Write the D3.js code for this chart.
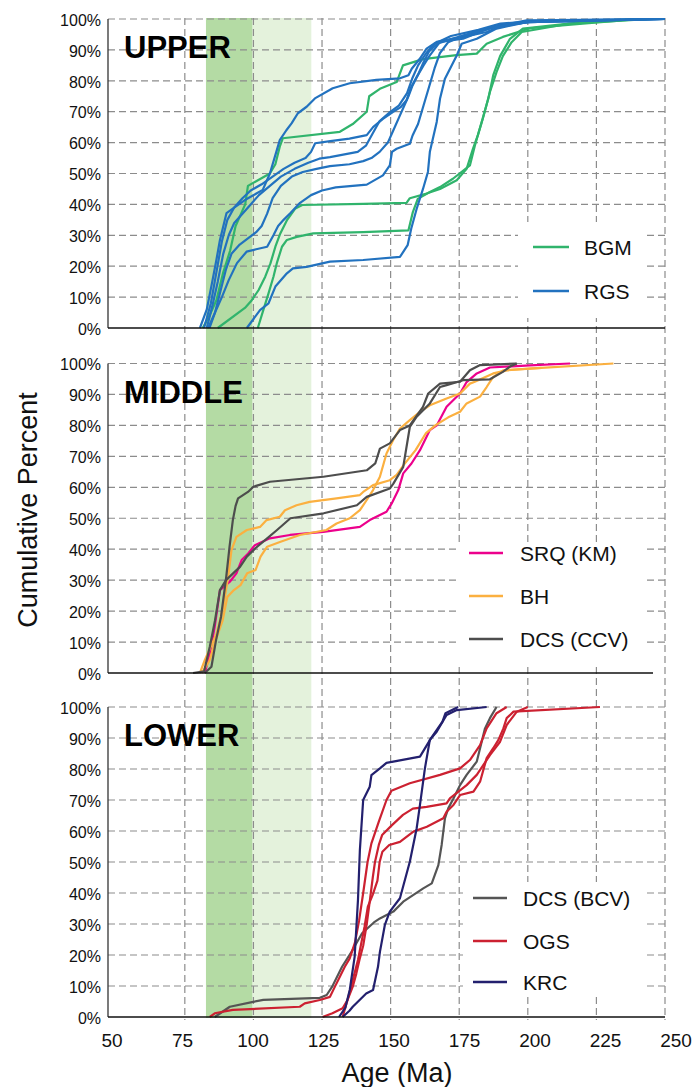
<!DOCTYPE html>
<html><head><meta charset="utf-8">
<script src="https://cdn.jsdelivr.net/npm/d3@7"></script>
<style>
html,body{margin:0;padding:0;background:#fff;}
svg{display:block;font-family:"Liberation Sans",Arial,sans-serif;}
</style></head>
<body><svg id="chart" width="694" height="1087"></svg>
<script>
// ---------- DATA (age in Ma, cumulative percent) ----------
const xTicks = [50,75,100,125,150,175,200,225,250];
const yTicks = [0,10,20,30,40,50,60,70,80,90,100];
const bandDark = [82.7, 99.7];
const bandLight = [99.7, 121.1];

// UPPER: BGM (green)
const bgm1 = [[81.5,0],[84,4],[86.5,9],[89,18],[91.5,25],[93.5,33],[95.5,37],[97,40],[98,46],[101,47.5],[106,50],[108,53],[109.6,58.7],[110.7,61.4],[131.5,63.5],[136.2,66],[141.3,70],[142.2,75],[146.1,77.4],[152.2,79.6],[154.5,85],[161.8,87],[174,88.3],[181.4,88.8],[185,92],[190.9,94.2],[200.8,97],[220,98.5],[241,100]];
const bgm2 = [[87,0],[96.9,6.5],[99.4,9],[101.9,12.3],[104.3,16.6],[106.2,20.9],[108,26.3],[109.8,30.6],[112.3,35],[115.3,38.7],[117.8,39.8],[140,40.2],[155.8,40.5],[157,42],[163.1,43.5],[168,45],[174.1,47.8],[177.7,51.5],[180,58],[181.8,62.4],[183.6,67.7],[186.2,76.4],[188.6,82.8],[190.9,88],[194.1,92.5],[197.8,95.8],[215,98.5],[245,100]];
const bgm3 = [[101.6,0],[103.6,5.8],[105.5,11.2],[107.3,16.6],[108.5,20.9],[110.4,26.3],[112.2,28.5],[115.8,29.5],[121.8,30.6],[140,31],[156.5,31.6],[158.1,37.5],[159.9,41.8],[164.3,44],[168,45.6],[172.7,48.3],[178.9,52.6],[180.7,59],[183.2,66.7],[185.6,74.2],[187.4,81.8],[189.9,88],[193.5,93.6],[198.2,96.9],[225,99.5],[245,100]];
// UPPER: RGS (blue)
const rgs1 = [[80.5,0],[83,6],[85,15],[86.5,22],[87.8,28.5],[90.2,37.2],[92.6,38.7],[96.9,41.4],[103.4,44.7],[106,50],[107.8,55.4],[109.6,60.8],[112,64],[113.9,66.2],[116.2,69.5],[119.4,71.6],[122.4,74.3],[128.9,77.6],[135.1,79.2],[144.8,80.3],[153.4,80.8],[156.5,81.8],[157.7,83.9],[160.7,87.2],[163.1,90.4],[166.8,92.6],[176.5,94.2],[185,95.8],[191.1,98],[199.6,99.6],[250,100]];
const rgs2 = [[82,0],[84.5,8],[86.5,18],[88.5,28],[90.5,35],[93,39],[96,42],[99,44.5],[103,46.5],[107,49],[111,51.5],[115,53.5],[119,55],[121,57],[122.5,59.8],[128,60.5],[135,61.3],[141.3,62.4],[143.6,65],[147.2,67.7],[150.8,69.9],[153.7,71.5],[155.8,73.7],[157.5,78],[159.5,81.2],[162,85],[164.3,88.2],[168,92.6],[176.4,93.6],[183,96],[190,98],[205,99.5],[250,100]];
const rgs3 = [[83,0],[85,7],[87,15],[89,24],[91,30],[93,34],[96,37],[99,40],[102,43],[106,46],[110,49],[115,51.5],[120,53.5],[124,54.8],[127.9,55.3],[138,57],[141,59],[143.5,63],[146,67],[150,70],[153,72],[156,76],[158,81],[160,85],[163,89],[166,92],[172,94.5],[182,96.5],[190,98.5],[200,99.2],[250,100]];
const rgs4 = [[84,0],[86,5],[88,12],[90,19],[92,24],[95,27],[98,29],[101,31],[103,33],[105,37],[107,42],[110,46],[114,49],[118,50.5],[123,51.5],[127.9,52.4],[135,53],[140,54],[143,55],[146,57],[149,60],[151,64],[153,68],[155,72],[156.5,75],[158,78.5],[160,82],[162,86],[164,89.5],[167,92],[172,93.5],[180,95.5],[188,97.5],[200,99],[250,100]];
const rgs5 = [[83.5,0],[86,5],[88.5,10],[91,15.5],[94,21],[97.5,24.7],[101,25.5],[105,26.3],[107.3,30],[109,33],[111,35],[113.5,37.2],[117,40.5],[121,43],[125,44.5],[130,45.5],[141.3,46.4],[147.2,49.4],[149.7,52.6],[150.5,57],[152.2,58],[157,59.6],[158,62.3],[160,66],[162,72],[164,78],[166,84],[168,89],[171,92.5],[176,94.5],[185,97],[200,99],[250,100]];
const rgs6 = [[97.6,0],[102.4,5.8],[105.5,8],[108,13.4],[112.2,17.7],[114.4,19.3],[119.4,19.8],[127.9,21.5],[140,22],[153.4,23],[156.2,26.8],[157.5,32.1],[159.5,38.6],[161.8,45],[163.6,50.5],[164.3,57],[166.8,66.7],[168,74.2],[169.8,80.7],[174.1,88.2],[175.9,92],[181.4,93.6],[188.6,96.9],[199.6,99],[250,100]];

// MIDDLE: SRQ (KM) magenta, BH orange, DCS (CCV) grey
const srq1 = [[82.3,0],[84.1,6.4],[85.9,15],[87.8,26.8],[91.4,29.5],[93.8,32.2],[95.7,36.5],[98.1,38.6],[100.5,41.3],[106,43.5],[113.3,44.6],[125.5,45.6],[138.8,47.2],[142.4,49.4],[148.5,52.1],[150.4,54.8],[152.8,59.1],[154.6,64.5],[157.6,67.7],[160.7,72],[164.3,78.5],[166.8,80],[170.4,86],[175.3,90.3],[177.7,94],[181.4,96.8],[186.2,98.7],[200.8,99.4],[215.4,100]];
const bh1 = [[80.5,0],[82.3,4.2],[86.6,12.8],[89,21.4],[90.8,31.1],[92,39.7],[93.8,44],[97.6,46.2],[102.4,47.2],[104.8,49.4],[109.6,50.5],[111.5,52.6],[115.7,54.2],[120.5,55.3],[130.3,56.4],[138.8,57.5],[140,58.5],[143.6,60.7],[149.7,62.3],[152.2,64],[155,67.5],[159.1,72],[162.8,77.4],[166.4,80.1],[171,82.6],[175.3,84.4],[177.7,87.1],[182.6,89.3],[185,92.4],[187.4,95.7],[191,97.8],[205,98.6]];
const bh2 = [[81.2,0],[84,4],[86,10],[88.8,17],[90.5,24.6],[92.9,26.8],[95.3,28.4],[97.7,32.2],[100.8,33.3],[102.6,37.6],[105,40.8],[109.9,42.4],[116.9,44.6],[126.6,46.2],[130.3,48.3],[135.1,50],[138.8,52.6],[141.3,55.9],[143.6,59.1],[146.1,63.4],[148.5,70.9],[150.9,75.2],[153.4,79],[157,81.7],[160.7,84.4],[164.3,86.5],[170.4,88.7],[175.3,90.3],[178.9,93.5],[180.7,94.1],[187.4,96.8],[192.3,97.8],[202,98.4],[231.2,100]];
const dcsM1 = [[82.3,0],[84.7,2],[86.4,10.7],[88.2,18.2],[90.1,31.1],[91.3,40.8],[92.5,49.4],[93.5,54],[94.4,56.4],[98,58.5],[100,60.2],[106,61.8],[125.5,63.4],[141.3,65.5],[144.4,67.7],[146.1,72.5],[149.7,74.2],[153.4,78.5],[157,80],[161.8,86],[163.7,90.3],[168,93.5],[175.3,94.1],[178.9,97.8],[182.6,99.5],[195.9,100]];
const dcsM2 = [[78,0],[82,0.5],[84.1,8.5],[86,17],[87.8,26.8],[90,30],[95.1,34.3],[97.6,37.6],[100.7,40.3],[105,43.5],[108.6,46.2],[113.5,50],[125.6,51.6],[137.7,54.2],[141.3,56.9],[149.7,59.6],[151,61.2],[154.6,66.6],[157,79.5],[159.5,82.8],[164.3,87.1],[168,92.4],[170.4,93],[176.4,94.6],[186.2,94.9],[190.9,97.3],[193.5,99],[196,100]];

// LOWER: DCS (BCV) grey, OGS red, KRC navy
const dcsL1 = [[85.9,0],[91.4,3.3],[99.9,4.9],[103.6,5.5],[124.2,6.2],[126.7,7.1],[128.7,9.8],[132.3,16.2],[135.4,20.5],[139.6,27],[143.9,30.5],[146.1,31.8],[151,34],[154.6,37.2],[161.9,41.5],[165,43.1],[167.4,49],[168.6,55.5],[169.8,64.1],[171,67.3],[172.9,70.5],[175.3,74.8],[177.7,78.1],[181.4,82.4],[182.6,86.7],[184.4,93.1],[186.2,96.4],[188.6,100]];
const ogs1 = [[84.1,0],[85.9,1.2],[92.5,2.3],[116.9,3.3],[118.7,4.4],[124.2,5.5],[127.9,6.5],[129.7,9.8],[131.5,13],[133.3,16.2],[135.1,18.9],[137,24],[138.5,31],[140,40],[141.6,50],[143,56],[145.7,63],[148.5,70],[150.3,73],[157,75.4],[168,78.1],[175.3,80.2],[178.9,82.9],[182.6,87.7],[185,93.1],[188.6,98],[192.3,100]];
const ogs2 = [[125.2,0],[128.8,1.2],[132.5,2.8],[134.3,5.5],[136.2,9.8],[137.5,14],[138.8,19],[140,23],[141.3,30],[142.5,38],[143.5,45],[144.3,50],[145.7,55.5],[146.9,58.7],[150.5,61.9],[154.5,65.2],[158.1,67.2],[163.1,67.8],[170.4,68.9],[171.6,70.5],[177.7,74.8],[181.4,78.1],[186.2,84.5],[189.9,88.8],[192.3,94.2],[196,98.5],[200,100]];
const ogs3 = [[132.5,0],[134.3,5.5],[136.2,11.9],[138.1,18.4],[139.3,23.8],[140.5,29.1],[141.7,35.6],[143.5,39.5],[145.2,44],[146,50],[147,53.3],[149.5,55.5],[153.4,56.5],[158.3,59.8],[163.2,61.4],[169.2,64.1],[170.4,66.2],[172.9,68.4],[175.3,71.6],[180.2,72.7],[182.6,75.9],[185,83.5],[187.4,86.7],[189.3,89.4],[191.1,93.1],[192.3,96.4],[194.8,98.5],[226.3,100]];
const krc1 = [[131.2,0],[133.5,3],[135.1,8.7],[136.9,19.5],[138.1,37.7],[138.8,53.9],[140,70],[142.4,74.3],[143,78],[146.1,80.2],[148.5,82],[160.7,84],[164.7,89.9],[168.9,95.3],[170,98],[174.6,100]];
const krc2 = [[132.5,0],[135,2],[136.2,3.3],[141.1,7.6],[143.6,8.7],[145.4,16.2],[146.1,21],[147.9,29.7],[149.7,34],[153.4,38.3],[157,50.1],[159.5,60.9],[160.7,68.4],[162.5,80.2],[164.3,89.4],[166.8,92],[170.4,97.4],[174.1,99],[185,100]];

const panelNames = ["UPPER","MIDDLE","LOWER"];
const upperSeries = [["BGM","#30b46c",[bgm1,bgm2,bgm3]],["RGS","#2272bf",[rgs1,rgs2,rgs3,rgs4,rgs5,rgs6]]];
const middleSeries = [["SRQ (KM)","#ec008c",[srq1]],["BH","#fbb040",[bh1,bh2]],["DCS (CCV)","#4d4d4d",[dcsM1,dcsM2]]];
const lowerSeries = [["DCS (BCV)","#555555",[dcsL1]],["OGS","#cc2131",[ogs1,ogs2,ogs3]],["KRC","#23206e",[krc1,krc2]]];

// ---------- LAYOUT ----------
const svg = d3.select("#chart");
const x = d3.scaleLinear().domain([47,250]).range([108,665]);
const xLab = d3.scaleLinear().domain([50,250]).range([112,676]);
const panels = [
  {name:panelNames[0], y:d3.scaleLinear().domain([0,100]).range([328,19]), series:upperSeries, axisEnd:665,
   legend:{box:[518,222,643,318], lx:[533,569], tx:584, ys:[247,291]}},
  {name:panelNames[1], y:d3.scaleLinear().domain([0,100]).range([673,363.5]), series:middleSeries, axisEnd:653,
   legend:{box:[457,542,643,665], lx:[469,503], tx:520, ys:[553,596,639]}},
  {name:panelNames[2], y:d3.scaleLinear().domain([0,100]).range([1017,707]), series:lowerSeries, axisEnd:665,
   legend:{box:[463,882,643,997], lx:[473,507], tx:523, ys:[898,941,982]}}
];
const gridColor = "#8c8c8c", dash = "7,4";

// background bands spanning all panels
const bandTop = 18, bandBottom = 1018;
svg.append("rect").attr("x",x(bandDark[0])).attr("y",bandTop).attr("width",x(bandDark[1])-x(bandDark[0])).attr("height",bandBottom-bandTop).attr("fill","#b4dba4");
svg.append("rect").attr("x",x(bandLight[0])).attr("y",bandTop).attr("width",x(bandLight[1])-x(bandLight[0])).attr("height",bandBottom-bandTop).attr("fill","#e4f2dc");

// vertical grid lines through all panels
svg.append("g").selectAll("line").data(xTicks.filter(d=>d>50)).join("line")
  .attr("x1",d=>x(d)).attr("x2",d=>x(d)).attr("y1",bandTop).attr("y2",bandBottom+2)
  .attr("stroke",gridColor).attr("stroke-width",1.2).attr("stroke-dasharray",dash);

const line = (ys)=>d3.line().x(d=>x(d[0])).y(d=>ys(d[1]));

panels.forEach(p=>{
  const g = svg.append("g");
  // horizontal grid
  g.selectAll("line.h").data(yTicks.filter(d=>d>0)).join("line").attr("class","h")
    .attr("x1",x(47)).attr("x2",x(250)).attr("y1",d=>p.y(d)).attr("y2",d=>p.y(d))
    .attr("stroke",gridColor).attr("stroke-width",1.2).attr("stroke-dasharray",dash);
  // legend box (covers grid)
  const b = p.legend.box;
  g.append("rect").attr("x",b[0]).attr("y",b[1]).attr("width",b[2]-b[0]).attr("height",b[3]-b[1]).attr("fill","#fff");
  // data lines
  p.series.forEach(s=>{
    s[2].forEach(arr=>{
      g.append("path").datum(arr).attr("d",line(p.y)).attr("fill","none")
        .attr("stroke",s[1]).attr("stroke-width",2.2).attr("stroke-linejoin","round");
    });
  });
  // axes lines
  g.append("line").attr("x1",x(47)).attr("x2",x(47)).attr("y1",p.y(100)).attr("y2",p.y(0)).attr("stroke","#333").attr("stroke-width",1.3);
  g.append("line").attr("x1",x(47)).attr("x2",p.axisEnd).attr("y1",p.y(0)).attr("y2",p.y(0)).attr("stroke","#111").attr("stroke-width",1.6);
  // y tick labels
  g.selectAll("text.yt").data(yTicks).join("text").attr("class","yt")
    .attr("x",101).attr("y",d=>p.y(d)).attr("dy","0.42em").attr("text-anchor","end")
    .attr("font-size",16).attr("fill","#111").text(d=>d+"%");
  // panel title
  g.append("text").attr("x",124).attr("y",p.y(100)+39)
    .attr("font-size",31).attr("font-weight","bold").attr("fill","#000").text(p.name);
  // legend
  p.series.forEach((s,i)=>{
    g.append("line").attr("x1",p.legend.lx[0]).attr("x2",p.legend.lx[1]).attr("y1",p.legend.ys[i]).attr("y2",p.legend.ys[i])
      .attr("stroke",s[1]).attr("stroke-width",2.6);
    g.append("text").attr("x",p.legend.tx).attr("y",p.legend.ys[i]).attr("dy","0.36em")
      .attr("font-size",21).attr("fill","#111").text(s[0]);
  });
});

// x tick labels
svg.append("g").selectAll("text").data(xTicks).join("text")
  .attr("x",d=>xLab(d)).attr("y",1047).attr("text-anchor","middle")
  .attr("font-size",19).attr("fill","#111").text(d=>d);
// axis titles
svg.append("text").attr("x",397).attr("y",1082).attr("text-anchor","middle").attr("font-size",27).attr("fill","#111").text("Age (Ma)");
svg.append("text").attr("transform","translate(37,510) rotate(-90)").attr("text-anchor","middle").attr("font-size",27).attr("fill","#111").text("Cumulative Percent");
</script></body></html>
